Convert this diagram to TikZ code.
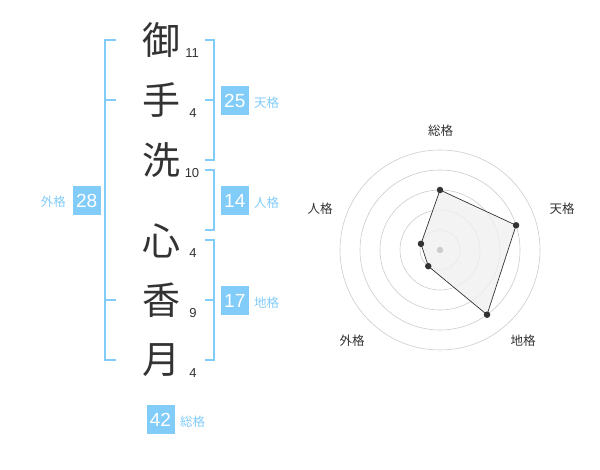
\documentclass[tikz,border=0pt]{standalone}
\usepackage{fontspec}
\usetikzlibrary{calc}
\setmainfont{Liberation Sans}
\newfontfamily\jp{Noto Sans CJK JP}
\definecolor{sky}{RGB}{130,204,250}
\definecolor{ink}{RGB}{51,51,51}
\definecolor{ring}{RGB}{204,204,204}
\definecolor{area}{RGB}{240,240,240}
\begin{document}
\begin{tikzpicture}[x=1pt,y=-1pt,
  kanji/.style={font=\jp\fontsize{38}{38}\selectfont,text=ink,inner sep=0pt},
  stroke/.style={font=\fontsize{13}{13}\selectfont,text=ink,inner sep=0pt},
  numbox/.style={fill=sky,text=white,font=\fontsize{19}{19}\selectfont,minimum width=28pt,minimum height=29pt,inner sep=0pt},
  kaku/.style={font=\jp\fontsize{12.5}{12.5}\selectfont,text=sky,inner sep=0pt},
  brk/.style={draw=sky,line width=1.6pt},
  rlabel/.style={font=\jp\fontsize{12.5}{12.5}\selectfont,text=ink,inner sep=0pt},
  dot/.style={circle,fill=ink,inner sep=0pt,minimum size=6.5pt}]
\useasboundingbox (0,0) rectangle (600,470);
% kanji
\node[kanji] (k1) at (161,40.5) {御};
\node[kanji] (k2) at (161,100.5) {手};
\node[kanji] (k3) at (161,160.5) {洗};
\node[kanji] (k4) at (161,240.5) {心};
\node[kanji] (k5) at (161,300.5) {香};
\node[kanji] (k6) at (161,360.5) {月};
% stroke counts
\node[stroke] (n1) at (192,53) {11};
\node[stroke] (n2) at (193,113) {4};
\node[stroke] (n3) at (192,173) {10};
\node[stroke] (n4) at (193,253) {4};
\node[stroke] (n5) at (193,313) {9};
\node[stroke] (n6) at (193,373) {4};
% brackets
\draw[brk] (116,40) -- (105,40) -- (105,360) -- (116,360);
\draw[brk] (105,100) -- (116,100);
\draw[brk] (105,300) -- (116,300);
\draw[brk] (205,40) -- (214,40) -- (214,160) -- (205,160);
\draw[brk] (214,100) -- (205,100);
\draw[brk] (205,170) -- (214,170) -- (214,230) -- (205,230);
\draw[brk] (205,240) -- (214,240) -- (214,360) -- (205,360);
\draw[brk] (214,300) -- (205,300);
% boxes
\node[numbox] (b28) at (86.7,200.5) {28};
\node[kaku,anchor=east] (l28) at (66,202) {外格};
\node[numbox] (b25) at (234.8,100.5) {25};
\node[kaku,anchor=west] (l25) at (254,103) {天格};
\node[numbox] (b14) at (234.8,200.5) {14};
\node[kaku,anchor=west] (l14) at (254,203) {人格};
\node[numbox] (b17) at (234.8,300.5) {17};
\node[kaku,anchor=west] (l17) at (254,303) {地格};
\node[numbox] (b42) at (160.5,419.5) {42};
\node[kaku,anchor=west] (l42) at (180,422) {総格};
% radar
\coordinate (c) at (440,250);
\foreach \r in {20,40,60,80,100} \draw[ring,line width=0.6pt] (c) circle (\r);
\coordinate (p1) at ($(c)+(-90:60)$);
\coordinate (p2) at ($(c)+(-18:80)$);
\coordinate (p3) at ($(c)+(54:80)$);
\coordinate (p4) at ($(c)+(126:20)$);
\coordinate (p5) at ($(c)+(-162:20)$);
\draw[fill=area,fill opacity=0.8,draw=ink,line width=0.7pt] (p1) -- (p2) -- (p3) -- (p4) -- (p5) -- cycle;
\fill[ring] (c) circle (3.2);
\foreach \p in {p1,p2,p3,p4,p5} \node[dot] at (\p) {};
\node[rlabel] (r1) at (440.7,130.5) {総格};
\node[rlabel] (r2) at (562,208.5) {天格};
\node[rlabel] (r3) at (523,341) {地格};
\node[rlabel] (r4) at (352,341) {外格};
\node[rlabel] (r5) at (320,208.5) {人格};
\end{tikzpicture}
\end{document}
